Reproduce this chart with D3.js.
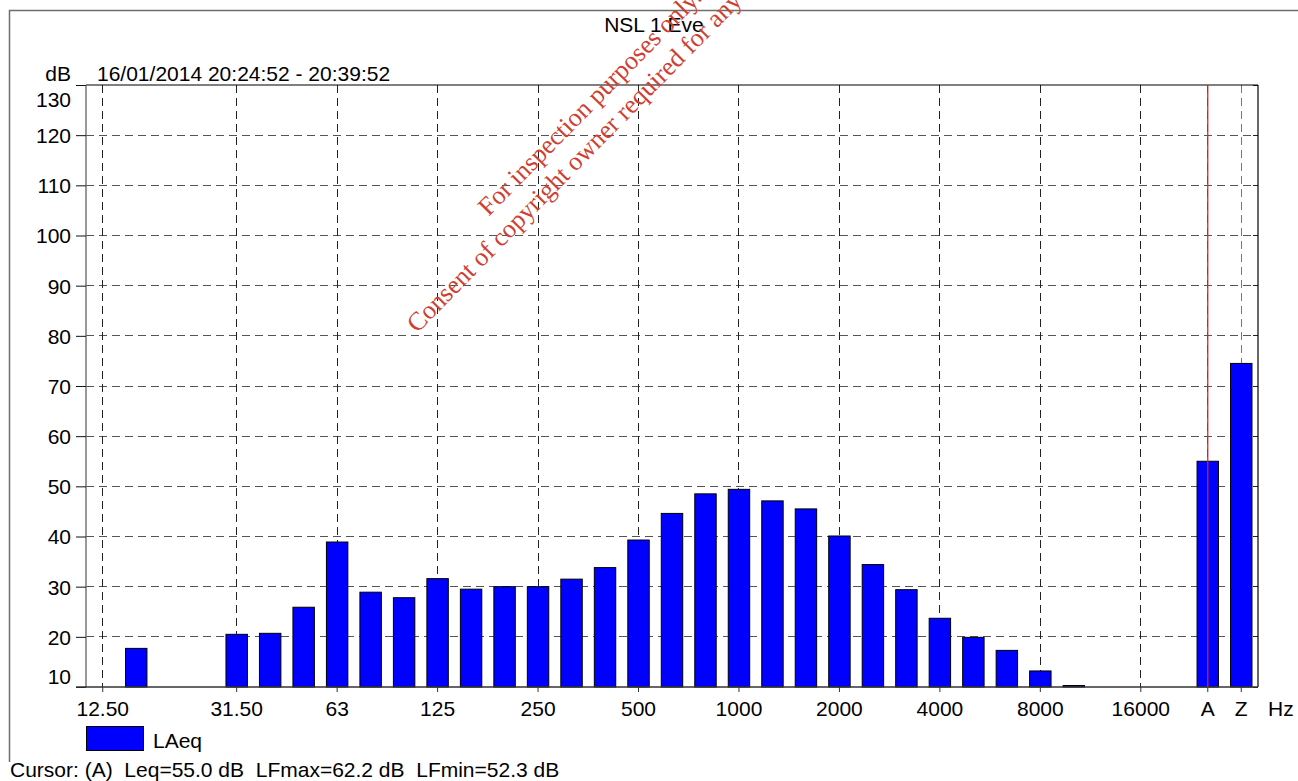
<!DOCTYPE html>
<html>
<head>
<meta charset="utf-8">
<script src="https://cdn.jsdelivr.net/npm/d3@7/dist/d3.min.js"></script>
<style>
  html, body { margin: 0; padding: 0; background: #fff; }
  svg { display: block; font-family: "Liberation Sans", Arial, sans-serif; }
  .pre { white-space: pre; }
</style>
</head>
<body>
<svg id="chart" width="1298" height="781"></svg>
<script>
// 1/3-octave band centres plus the A- and Z-weighted totals
const bands = ["12.5","16","20","25","31.5","40","50","63","80","100","125","160","200","250","315","400",
  "500","630","800","1000","1250","1600","2000","2500","3150","4000","5000","6300","8000","10000",
  "12500","16000","20000","A","Z"];
// LAeq per band, dB (bands below the 10 dB floor sit on the baseline)
const laeq = [6.5, 17.7, 8.2, 9.1, 20.5, 20.7, 25.9, 38.9, 28.9, 27.8, 31.6, 29.5, 30.0, 30.0, 31.5, 33.8,
  39.3, 44.6, 48.5, 49.4, 47.1, 45.5, 40.1, 34.4, 29.4, 23.7, 19.9, 17.3, 13.2, 10.3,
  7.5, 6.8, 5.9, 55.0, 74.5];
// Labelled x positions and their texts
const xTickBands = ["12.5","31.5","63","125","250","500","1000","2000","4000","8000","16000","A","Z"];
const xTickLabels = ["12.50","31.50","63","125","250","500","1000","2000","4000","8000","16000","A","Z"];
const yTicks = [10, 20, 30, 40, 50, 60, 70, 80, 90, 100, 110, 120, 130];
const cursorBand = "A";

const title = "NSL 1 Eve";
const period = "16/01/2014 20:24:52 - 20:39:52";
const seriesName = "LAeq";
const cursorText = "Cursor: (A)  Leq=55.0 dB  LFmax=62.2 dB  LFmin=52.3 dB";
const watermark = ["For inspection purposes only.", "Consent of copyright owner required for any other use."];

const svg = d3.select("#chart");
const L = 86, R = 1258, T = 85, B = 687;
const FS = 21;

const x = d3.scaleBand().domain(bands).range([L, R]).paddingInner(0.36).paddingOuter(0.18);
const y = d3.scaleLinear().domain([10, 130]).range([B, T]);
const cx = b => x(b) + x.bandwidth() / 2;

// outer frame
svg.append("path")
  .attr("d", "M9.5,762 L9.5,10.5 L1298,10.5")
  .attr("fill", "none").attr("stroke", "#6e6e6e").attr("stroke-width", 1.5);

// title and header
svg.append("text").attr("x", 654).attr("y", 32).attr("text-anchor", "middle")
  .attr("font-size", FS).text(title);
svg.append("text").attr("x", 71).attr("y", 81).attr("text-anchor", "end")
  .attr("font-size", FS).text("dB");
svg.append("text").attr("x", 97).attr("y", 81).attr("font-size", FS).text(period);

// horizontal grid
svg.append("g").selectAll("line").data(yTicks.filter(v => v > 10 && v < 130)).join("line")
  .attr("x1", L).attr("x2", R).attr("y1", d => y(d)).attr("y2", d => y(d))
  .attr("stroke", "#555").attr("stroke-width", 1).attr("stroke-dasharray", "8,5")
  .attr("shape-rendering", "crispEdges");

// vertical grid
svg.append("g").selectAll("line").data(xTickBands).join("line")
  .attr("x1", d => cx(d)).attr("x2", d => cx(d)).attr("y1", T).attr("y2", B)
  .attr("stroke", d => d === "Z" ? "#777" : "#222").attr("stroke-width", 1)
  .attr("stroke-dasharray", "8,5").attr("shape-rendering", "crispEdges");

// inner ticks on the right edge
svg.append("g").selectAll("line").data(yTicks).join("line")
  .attr("x1", R - 5).attr("x2", R).attr("y1", d => y(d)).attr("y2", d => y(d))
  .attr("stroke", "#222").attr("shape-rendering", "crispEdges");

// bars
svg.append("g").selectAll("rect").data(bands.map((b, i) => ({ b, v: laeq[i] }))).join("rect")
  .attr("x", d => x(d.b)).attr("width", x.bandwidth())
  .attr("y", d => y(Math.max(d.v, 10)))
  .attr("height", d => B - y(Math.max(d.v, 10)))
  .attr("fill", "#0000ff").attr("stroke", "#000").attr("stroke-width", 1);

// plot frame
svg.append("line").attr("x1", L).attr("x2", R).attr("y1", T).attr("y2", T)
  .attr("stroke", "#000").attr("stroke-width", 1.2);
svg.append("line").attr("x1", R).attr("x2", R).attr("y1", T).attr("y2", B)
  .attr("stroke", "#000").attr("stroke-width", 1.2);

// y axis
const yAxis = svg.append("g").attr("transform", `translate(${L},0)`)
  .call(d3.axisLeft(y).tickValues(yTicks).tickSize(10).tickPadding(5).tickFormat(d3.format("d")));
yAxis.select(".domain").attr("stroke", "#777").attr("stroke-width", 1.5).attr("d", `M0,${T}V${B}`);
yAxis.selectAll(".tick line").attr("stroke", "#111");
yAxis.selectAll(".tick text").attr("font-size", FS).attr("font-family", null).attr("fill", "#000")
  .attr("dy", d => d === 130 ? "1.0em" : d === 10 ? "-0.15em" : "0.35em");

// x axis
const xAxis = svg.append("g").attr("transform", `translate(0,${B})`)
  .call(d3.axisBottom(x).tickValues(xTickBands).tickSize(5)
    .tickFormat(d => xTickLabels[xTickBands.indexOf(d)]));
xAxis.select(".domain").attr("stroke", "#333").attr("stroke-width", 1.5).attr("d", `M${L - 10},0H${R}`);
xAxis.selectAll(".tick line").attr("stroke", "#333");
xAxis.selectAll(".tick text").attr("font-size", FS).attr("font-family", null).attr("fill", "#000")
  .attr("dy", null).attr("y", 29);
svg.append("text").attr("x", 1268).attr("y", B + 29).attr("font-size", FS).text("Hz");

// cursor line
svg.append("line").attr("x1", cx(cursorBand)).attr("x2", cx(cursorBand)).attr("y1", T).attr("y2", B)
  .attr("stroke", "#d42a2a").attr("stroke-width", 1.3);

// legend
svg.append("rect").attr("x", 86.5).attr("y", 726.5).attr("width", 57).attr("height", 24)
  .attr("fill", "#0000ff").attr("stroke", "#000");
svg.append("text").attr("x", 153).attr("y", 748).attr("font-size", FS).text(seriesName);

// cursor readout
svg.append("text").attr("class", "pre").attr("x", 10).attr("y", 777).attr("font-size", FS).text(cursorText);

// diagonal notice
const wm = svg.append("g").attr("transform", "translate(600,112) rotate(-45.5)")
  .attr("font-family", "'Liberation Serif', 'Times New Roman', serif")
  .attr("font-size", 26).attr("fill", "#cf3f32").attr("text-anchor", "middle");
wm.append("text").attr("x", 0).attr("y", -6).text(watermark[0]);
wm.append("text").attr("x", 0).attr("y", 25).text(watermark[1]);
</script>
</body>
</html>
